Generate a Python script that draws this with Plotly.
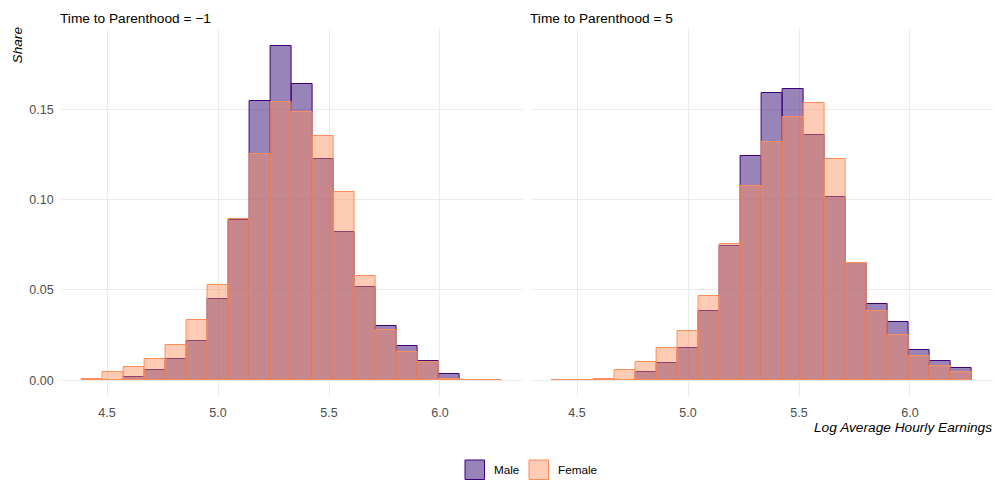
import plotly.graph_objects as go

# Histogram bins of log average hourly earnings (left edge and common width)
bin_start = 4.386
bin_width = 0.0946
n_bins = 20

# Share of workers per bin, one year before parenthood
male_m1 = [0.0, 0.0, 0.0020, 0.0059, 0.0115, 0.0220, 0.0451, 0.0887, 0.1549, 0.1853,
           0.1639, 0.1223, 0.0821, 0.0516, 0.0303, 0.0190, 0.0107, 0.0037, 0.0, 0.0]
female_m1 = [0.0004, 0.0043, 0.0076, 0.0120, 0.0196, 0.0336, 0.0525, 0.0894, 0.1251, 0.1541,
             0.1484, 0.1353, 0.1044, 0.0580, 0.0277, 0.0157, 0.0100, 0.0009, 0.0003, 0.0003]

# Share of workers per bin, five years after parenthood
male_p5 = [0.0, 0.0, 0.0, 0.0, 0.0044, 0.0094, 0.0181, 0.0383, 0.0741, 0.1240,
           0.1590, 0.1613, 0.1356, 0.1013, 0.0647, 0.0425, 0.0320, 0.0170, 0.0105, 0.0068]
female_p5 = [0.0003, 0.0003, 0.0005, 0.0054, 0.0103, 0.0181, 0.0273, 0.0466, 0.0752, 0.1077,
             0.1320, 0.1456, 0.1536, 0.1227, 0.0647, 0.0381, 0.0249, 0.0135, 0.0078, 0.0048]

panel_titles = ["Time to Parenthood = \u22121", "Time to Parenthood = 5"]
legend_labels = ["Male", "Female"]
x_ticks = [4.5, 5.0, 5.5, 6.0]
y_ticks = [0.0, 0.05, 0.10, 0.15]

centers = [bin_start + bin_width * (i + 0.5) for i in range(n_bins)]

MALE_FILL = "rgba(60,20,120,0.52)"
MALE_LINE = "#3f007d"
FEMALE_FILL = "rgba(252,141,89,0.45)"
FEMALE_LINE = "#fc8d59"
FONT = "Liberation Sans, Arial, sans-serif"
W, H = 995, 481


def px_x(p):
    return p / W


def px_y(p):
    return 1 - p / H


fig = go.Figure()

panels = [(male_m1, female_m1, "x", "y"), (male_p5, female_p5, "x2", "y2")]
for m, f, xa, ya in panels:
    fig.add_trace(go.Bar(
        x=centers, y=m, width=bin_width, name="Male", xaxis=xa, yaxis=ya,
        marker=dict(color=MALE_FILL, line=dict(color=MALE_LINE, width=1)),
        hoverinfo="x+y", showlegend=False,
    ))
    fig.add_trace(go.Bar(
        x=centers, y=f, width=bin_width, name="Female", xaxis=xa, yaxis=ya,
        marker=dict(color=FEMALE_FILL, line=dict(color=FEMALE_LINE, width=1)),
        hoverinfo="x+y", showlegend=False,
    ))

x_range = [4.291, 6.373]
y_range = [-0.0093, 0.1946]
y_dom = [px_y(397), px_y(29)]
left_dom = [px_x(60.6), px_x(522.8)]
right_dom = [px_x(530.6), px_x(992.8)]

axis_common = dict(
    showgrid=True, gridcolor="#ebebeb", gridwidth=1, zeroline=False,
    showline=False, ticks="", tickfont=dict(family=FONT, size=12.5, color="#4d4d4d"),
)
tick_text = ["4.5", "5.0", "5.5", "6.0"]

fig.update_layout(
    width=W, height=H,
    margin=dict(l=0, r=0, t=0, b=0),
    paper_bgcolor="white", plot_bgcolor="white",
    barmode="overlay", bargap=0,
    font=dict(family=FONT, size=12, color="black"),
    xaxis=dict(domain=left_dom, range=x_range, tickvals=x_ticks, ticktext=tick_text,
               anchor="y", ticklabelstandoff=6, **axis_common),
    yaxis=dict(domain=y_dom, range=y_range, tickvals=y_ticks,
               ticktext=["0.00", "0.05", "0.10", "0.15"], anchor="x",
               ticklabelstandoff=6, **axis_common),
    xaxis2=dict(domain=right_dom, range=x_range, tickvals=x_ticks, ticktext=tick_text,
                anchor="y2", ticklabelstandoff=6, **axis_common),
    yaxis2=dict(domain=y_dom, range=y_range, tickvals=y_ticks,
                showticklabels=False, anchor="x2", **axis_common),
    showlegend=False,
)

# Panel strip titles
for x0, title in zip([px_x(58), px_x(528)], panel_titles):
    fig.add_annotation(text=title, xref="paper", yref="paper", x=x0, y=px_y(18),
                       xanchor="left", yanchor="middle", showarrow=False,
                       font=dict(family=FONT, size=13.7, color="black"))

# Axis titles
fig.add_annotation(text="<i>Share</i>", xref="paper", yref="paper", x=px_x(17),
                   y=px_y(45.5), textangle=-90, xanchor="center", yanchor="middle",
                   showarrow=False, font=dict(family=FONT, size=13.7, color="black"))
fig.add_annotation(text="<i>Log Average Hourly Earnings</i>", xref="paper", yref="paper",
                   x=px_x(994), y=px_y(427), xanchor="right", yanchor="middle",
                   showarrow=False, font=dict(family=FONT, size=13.7, color="black"))

# Legend at the bottom: filled keys with outlines, labels beside them
key_specs = [(465, MALE_FILL, MALE_LINE), (529, FEMALE_FILL, FEMALE_LINE)]
for (kx, fill, line), label in zip(key_specs, legend_labels):
    fig.add_shape(type="rect", xref="paper", yref="paper",
                  x0=px_x(kx), x1=px_x(kx + 19.5), y0=px_y(479.5), y1=px_y(460),
                  fillcolor=fill, line=dict(color=line, width=1))
    fig.add_annotation(text=label, xref="paper", yref="paper", x=px_x(kx + 27),
                       y=px_y(469.5), xanchor="left", yanchor="middle", showarrow=False,
                       font=dict(family=FONT, size=11.7, color="black"))

fig.write_html("out.html")
